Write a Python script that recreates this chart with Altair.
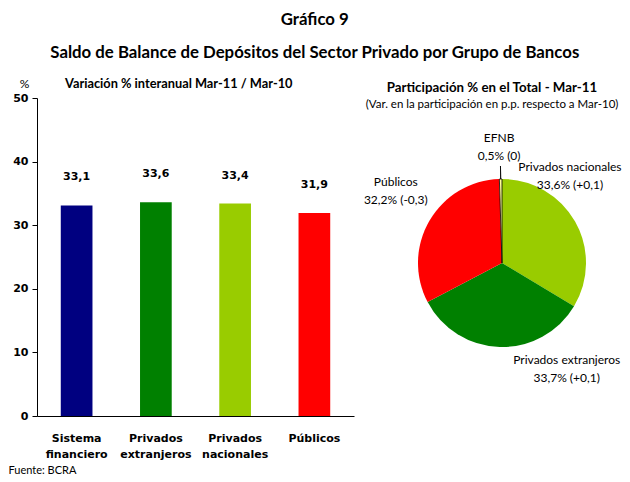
import altair as alt
import pandas as pd

# ---- data ----
bar_groups = ["Sistema financiero", "Privados extranjeros", "Privados nacionales", "Públicos"]
bar_values = [33.1, 33.6, 33.4, 31.9]
bar_colors = ["#000080", "#008000", "#99CC00", "#FF0000"]
y_ticks = [0, 10, 20, 30, 40, 50]

pie_groups = ["Privados nacionales", "Privados extranjeros", "Públicos", "EFNB"]
pie_shares = [33.6, 33.7, 32.2, 0.5]
pie_changes = [0.1, 0.1, -0.3, 0.0]
pie_colors = ["#99CC00", "#008000", "#FF0000", "#FFFF99"]

TXT = "Lato"
BOLD = "DejaVu Sans"

# ---- bar panel ----
bars_df = pd.DataFrame({"grupo": bar_groups, "valor": bar_values})
bbase = alt.Chart(bars_df).transform_calculate(
    lbl="replace(format(datum.valor, '.1f'), '.', ',')"
)

x_enc = alt.X(
    "grupo:N", sort=bar_groups,
    scale=alt.Scale(paddingInner=0.6, paddingOuter=0.3),
    axis=alt.Axis(
        title="Fuente: BCRA", labelAngle=0, labelExpr="split(datum.label, ' ')",
        ticks=False, domainColor="black", labelFont=BOLD, labelFontWeight="bold",
        labelFontSize=11, labelColor="black", labelPadding=16, labelLineHeight=16,
        labelBaseline="top",
        titleFont=TXT, titleFontWeight="normal", titleFontSize=11, titleColor="black",
        titleX=-29, titleY=54, titleAlign="left", titleBaseline="middle",
    ),
)
y_enc = alt.Y(
    "valor:Q", scale=alt.Scale(domain=[0, 50]),
    axis=alt.Axis(
        values=y_ticks, title="%", titleAngle=0, titleX=-13, titleY=-8,
        titleAlign="center", titleBaseline="bottom", titleFont=TXT,
        titleFontWeight="normal", titleFontSize=12, titleColor="black",
        grid=False, tickSize=5, tickColor="black", domainColor="black",
        labelFont=BOLD, labelFontWeight="bold", labelFontSize=11, labelColor="black",
        labelPadding=4,
    ),
)
bars = bbase.mark_bar().encode(
    x=x_enc, y=y_enc,
    color=alt.Color("grupo:N", scale=alt.Scale(domain=bar_groups, range=bar_colors), legend=None),
)
blabels = bbase.mark_text(
    baseline="bottom", dy=-23, font=BOLD, fontWeight="bold", fontSize=11, color="black"
).encode(x=alt.X("grupo:N", sort=bar_groups), y="valor:Q", text="lbl:N")

left = alt.layer(bars, blabels).properties(
    width=317, height=318,
    title=alt.TitleParams(
        "Variación % interanual Mar-11 / Mar-10", anchor="start", frame="group", dx=28,
        font=TXT, fontSize=12.8, fontWeight="bold", color="black", offset=-14,
    ),
)

# ---- pie panel ----
pie_df = pd.DataFrame({
    "grupo": pie_groups, "share": pie_shares, "cambio": pie_changes,
    "orden": list(range(len(pie_groups))),
})
pbase = alt.Chart(pie_df).transform_stack(
    stack="share", as_=["s0", "s1"], groupby=[],
    sort=[alt.SortField(field="orden", order="ascending")],
).transform_calculate(
    mid="(datum.s0 + datum.s1) / 2",
    lbl="datum.grupo + '\\n' + replace(format(datum.share, '.1f'), '.', ',') + '% (' + "
        "(datum.cambio == 0 ? '0' : replace(replace(format(datum.cambio, '+.1f'), '.', ','), '\u2212', '-')) + ')'",
)
theta_scale = alt.Scale(domain=[0, 100])

arcs = pbase.mark_arc(outerRadius=84, stroke="black").encode(
    theta=alt.Theta("s0:Q", scale=theta_scale),
    theta2="s1:Q",
    color=alt.Color("grupo:N", scale=alt.Scale(domain=pie_groups, range=pie_colors), legend=None),
    strokeWidth=alt.condition("datum.grupo == 'EFNB'", alt.value(0.8), alt.value(0)),
)
leader = pbase.transform_filter(alt.datum.grupo == "EFNB").mark_arc(
    radius=97, radius2=84, filled=False, stroke="black", strokeWidth=0.8
).encode(theta=alt.Theta("mid:Q", scale=theta_scale), theta2="mid:Q")


def pie_label(g, dx, dy):
    return pbase.transform_filter(alt.datum.grupo == g).mark_text(
        radius=116, dx=dx, dy=dy, lineBreak="\n", lineHeight=18, font=TXT,
        fontSize=12, align="center", baseline="middle", color="black",
    ).encode(theta=alt.Theta("mid:Q", scale=theta_scale), text="lbl:N")


right = alt.layer(
    arcs, leader,
    pie_label("EFNB", -1, -9),
    pie_label("Privados nacionales", -33, -39),
    pie_label("Privados extranjeros", 68, -19),
    pie_label("Públicos", -6, -23),
).properties(
    width=236, height=330,
    title=alt.TitleParams(
        "Participación % en el Total - Mar-11",
        subtitle="(Var. en la participación en p.p. respecto a Mar-10)",
        font=TXT, fontSize=13.3, fontWeight="bold", color="black",
        subtitleFont=TXT, subtitleFontSize=11.5, subtitleColor="black",
        subtitlePadding=4, anchor="middle", dx=-10, offset=-12,
    ),
)

chart = alt.hconcat(left, right, spacing=9).properties(
    padding={"top": 4, "bottom": 0, "left": 0, "right": 0},
    title=alt.TitleParams(
        "Gráfico 9",
        subtitle="Saldo de Balance de Depósitos del Sector Privado por Grupo de Bancos",
        font=TXT, fontSize=16.8, fontWeight="bold", color="black",
        subtitleFont=TXT, subtitleFontSize=16.8, subtitleFontWeight="bold",
        subtitleColor="black", subtitlePadding=16, anchor="middle", offset=15,
    ),
).resolve_scale(color="independent").configure_view(stroke=None)

chart.save("out.html", embed_options={"renderer": "svg", "actions": False})
